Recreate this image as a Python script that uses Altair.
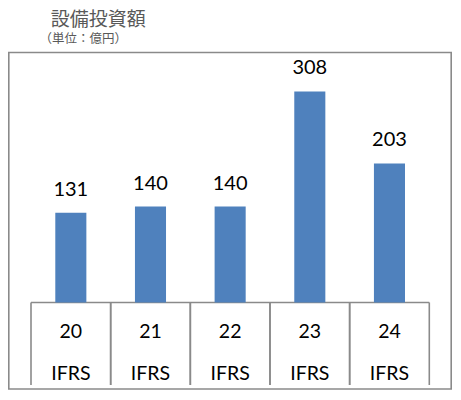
import altair as alt
import pandas as pd

years = ["20", "21", "22", "23", "24"]
standard = ["IFRS", "IFRS", "IFRS", "IFRS", "IFRS"]
capex = [131, 140, 140, 308, 203]

title_text = "設備投資額"
unit_text = "（単位：億円）"

df = pd.DataFrame({"year": years, "std": standard, "capex": capex})

W, H = 444, 382
LINE = "#8a8a8a"
NUM_FONT = "Lato"
JP_FONT = "Noto Sans CJK JP"

xs = alt.Scale(domain=years, range=[23, 421.3], paddingInner=0, paddingOuter=0)
ys = alt.Scale(domain=[0, 350], range=[294.5, 54.7], nice=False, zero=True)

base = alt.Chart(df)

bars = base.mark_bar(color="#4F81BD", width=alt.RelativeBandSize(0.39)).encode(
    x=alt.X("year:N", scale=xs, axis=None, sort=years),
    y=alt.Y("capex:Q", scale=ys, axis=None),
)

values = base.mark_text(
    font=NUM_FONT, fontSize=20, color="#000000", baseline="alphabetic", dy=-17
).encode(
    x=alt.X("year:N", scale=xs, axis=None, sort=years),
    y=alt.Y("capex:Q", scale=ys, axis=None),
    text="capex:Q",
)

year_lbl = base.mark_text(
    font=NUM_FONT, fontSize=19.5, color="#000000", baseline="alphabetic"
).encode(
    x=alt.X("year:N", scale=xs, axis=None, sort=years),
    y=alt.value(329.5),
    text="year:N",
)

std_lbl = base.mark_text(
    font=NUM_FONT, fontSize=19.5, color="#000000", baseline="alphabetic"
).encode(
    x=alt.X("year:N", scale=xs, axis=None, sort=years),
    y=alt.value(371.5),
    text="std:N",
)

div_left = base.mark_rule(color=LINE, strokeWidth=1.6).encode(
    x=alt.X("year:N", scale=xs, axis=None, sort=years, bandPosition=0),
    y=alt.value(294.5),
    y2=alt.value(377),
)
div_right = base.mark_rule(color=LINE, strokeWidth=1.6).encode(
    x=alt.X("year:N", scale=xs, axis=None, sort=years, bandPosition=1),
    y=alt.value(294.5),
    y2=alt.value(377),
)

one = alt.Data(values=[{"t": 1}])

baseline_rule = alt.Chart(one).mark_rule(color=LINE, strokeWidth=1.6).encode(
    x=alt.value(23), x2=alt.value(421.3), y=alt.value(294.5)
)

frame = alt.Chart(one).mark_rect(
    fill=None, fillOpacity=0, stroke=LINE, strokeWidth=1.6
).encode(
    x=alt.value(0.8), x2=alt.value(443.2), y=alt.value(44.5), y2=alt.value(381)
)

title = alt.Chart(one).mark_text(
    font=JP_FONT, fontSize=19, color="#595959", align="center", baseline="middle"
).encode(x=alt.value(90.3), y=alt.value(12), text=alt.value(title_text))

subtitle = alt.Chart(one).mark_text(
    font=JP_FONT, fontSize=12.5, color="#595959", align="center", baseline="middle"
).encode(x=alt.value(75.3), y=alt.value(31), text=alt.value(unit_text))

chart = alt.layer(
    frame, baseline_rule, div_left, div_right, bars, values, year_lbl, std_lbl,
    title, subtitle,
).properties(
    width=W, height=H, padding=0, autosize=alt.AutoSizeParams(type="none")
).configure_view(stroke=None)

chart.save("out.html", embed_options={"renderer": "svg", "actions": False})
